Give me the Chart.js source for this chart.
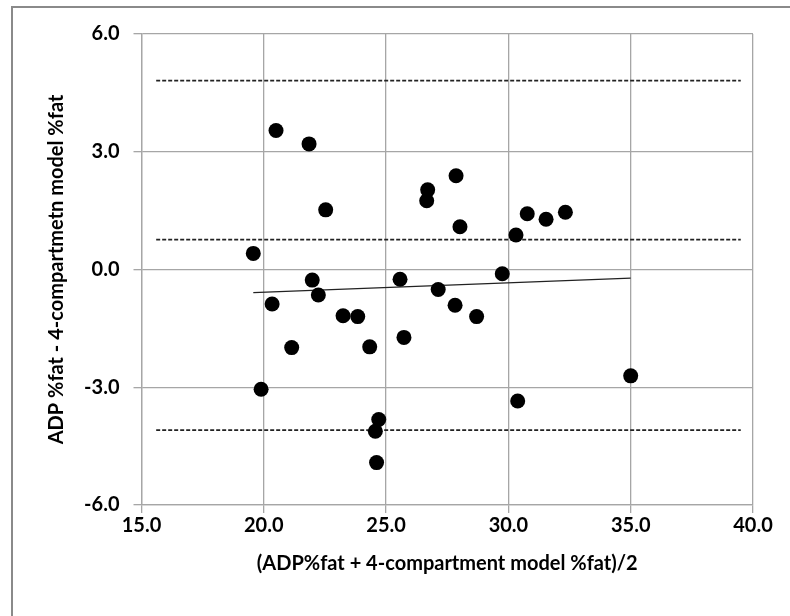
<!DOCTYPE html>
<html>
<head>
<meta charset="utf-8">
<script src="https://cdn.jsdelivr.net/npm/chart.js@4/dist/chart.umd.min.js"></script>
<style>
    body { margin: 0; background: #fff; }
    #wrap { position: relative; width: 790px; height: 616px; }
    #frame { position: absolute; left: 11px; top: 6px; right: -10px; bottom: -10px; border-left: 2px solid #8a8a8a; border-top: 2px solid #8a8a8a; }
</style>
</head>
<body>
<div id="wrap">
    <div id="frame"></div>
    <canvas id="baChart" width="790" height="616"></canvas>
</div>
<script>
// mean of the two methods
const meanValues = [19.57, 19.89, 20.34, 20.50, 21.14, 21.85, 21.98, 22.23, 22.53, 23.24,
    23.84, 24.33, 24.56, 24.61, 24.70, 25.57, 25.73, 26.66, 26.70, 27.13,
    27.82, 27.86, 28.02, 28.70, 29.75, 30.31, 30.38, 30.77, 31.54, 32.33, 35.00];
// difference ADP - 4C
const diffValues = [0.41, -3.05, -0.88, 3.54, -1.99, 3.20, -0.27, -0.65, 1.52, -1.18,
    -1.20, -1.97, -4.12, -4.92, -3.82, -0.25, -1.73, 1.75, 2.03, -0.51,
    -0.91, 2.39, 1.09, -1.20, -0.11, 0.88, -3.35, 1.42, 1.28, 1.46, -2.71];

// upper limit, mean bias, lower limit
const limitValues = [4.81, 0.76, -4.09];
const limitRange = [15.6, 39.5];

// regression line end points
const trendX = [19.57, 35.0];
const trendY = [-0.59, -0.22];

const xTicks = [15, 20, 25, 30, 35, 40];
const yTicks = [-6, -3, 0, 3, 6];

const xTitle = '(ADP%fat + 4-compartment model %fat)/2';
const yTitle = 'ADP %fat - 4-compartmetn model %fat';

function initChart() {

    var points = [];
    meanValues.forEach(function (m, i) {
        points.push({ x: m, y: diffValues[i] });
    });

    var datasets = [{
        type: 'scatter',
        data: points,
        backgroundColor: '#000',
        borderWidth: 0,
        pointRadius: 7.5
    }];

    limitValues.forEach(function (v) {
        datasets.push({
            type: 'line',
            data: limitRange.map(function (x) { return { x: x, y: v }; }),
            borderColor: '#222',
            borderWidth: 1.8,
            borderDash: [4, 2],
            pointRadius: 0,
            fill: false
        });
    });

    datasets.push({
        type: 'line',
        data: trendX.map(function (x, i) { return { x: x, y: trendY[i] }; }),
        borderColor: '#222',
        borderWidth: 1.3,
        pointRadius: 0,
        fill: false
    });

    var tickFont = { family: 'Lato', size: 20, weight: 'bold' };
    var gridGray = '#a6a6a6';

    new Chart(document.getElementById('baChart'), {
        type: 'scatter',
        data: { datasets: datasets },
        options: {
            responsive: false,
            animation: false,
            layout: { padding: { left: 45, top: 34, right: 37, bottom: 40 } },
            plugins: { legend: { display: false }, tooltip: { enabled: false } },
            scales: {
                x: {
                    type: 'linear',
                    min: 15,
                    max: 40,
                    afterBuildTicks: function (scale) {
                        scale.ticks = xTicks.map(function (v) { return { value: v }; });
                    },
                    afterFit: function (scale) { scale.height = 71; },
                    grid: { color: gridGray, lineWidth: 1.3, tickLength: 8, tickColor: gridGray },
                    border: { color: gridGray, width: 1.3 },
                    ticks: {
                        padding: 1,
                        color: '#000',
                        font: tickFont,
                        callback: function (v) { return v.toFixed(1); }
                    },
                    title: { display: true, text: xTitle, color: '#000', font: tickFont, padding: 0 }
                },
                y: {
                    type: 'linear',
                    min: -6,
                    max: 6,
                    afterBuildTicks: function (scale) {
                        scale.ticks = yTicks.map(function (v) { return { value: v }; });
                    },
                    afterFit: function (scale) { scale.width = 96.5; },
                    grid: { color: gridGray, lineWidth: 1.3, tickLength: 8, tickColor: gridGray },
                    border: { color: gridGray, width: 1.3 },
                    ticks: {
                        padding: 14,
                        color: '#000',
                        font: tickFont,
                        callback: function (v) { return v.toFixed(1); }
                    },
                    title: { display: true, text: yTitle, color: '#000', font: tickFont, padding: 0 }
                }
            }
        }
    });
}

initChart();
</script>
</body>
</html>
